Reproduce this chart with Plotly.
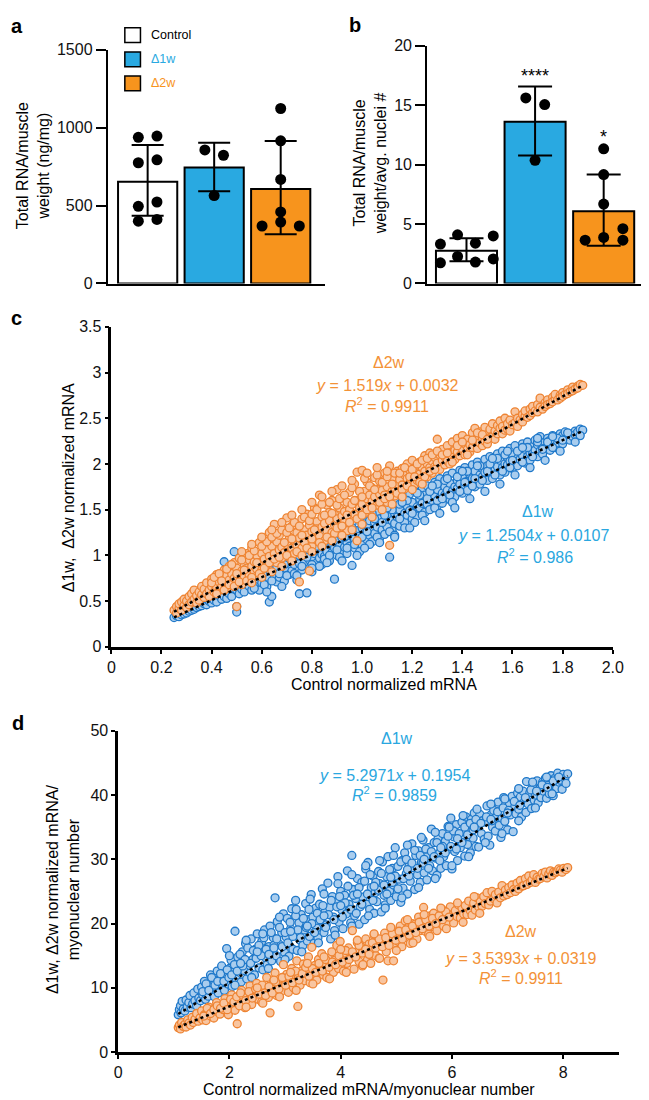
import plotly.graph_objects as go

W, H = 649, 1100
FONT = "Liberation Sans, Arial, sans-serif"

# ---------------- panel a : total RNA / muscle weight (ng/mg)
groups = ["Control", "Δ1w", "Δ2w"]
a_mean = [653, 744, 607]
a_upper = [889, 904, 915]
a_lower = [434, 592, 316]
a_ctrl = [938, 946, 775, 794, 495, 523, 400, 411]
a_1w = [857, 823, 564]
a_2w = [1123, 916, 668, 459, 369, 394, 369]

# ---------------- panel b : total RNA / muscle weight / avg nuclei
b_mean = [2.76, 13.6, 6.07]
b_upper = [3.81, 16.55, 9.16]
b_lower = [1.88, 10.76, 3.18]
b_ctrl = [3.31, 4.09, 3.39, 4.00, 1.74, 2.27, 1.80, 2.07]
b_1w = [15.6, 15.04, 10.35]
b_2w = [11.32, 9.16, 6.68, 3.64, 3.87, 4.61, 3.64]
b_stars = ["", "****", "*"]

# ---------------- panel c : normalized mRNA (x = control, y = D1w / D2w)
c_2w = [
    (0.25, 0.40), (0.26, 0.37), (0.26, 0.44), (0.27, 0.42), (0.27, 0.47),
    (0.28, 0.40), (0.28, 0.49), (0.29, 0.45), (0.29, 0.52), (0.30, 0.43),
    (0.30, 0.50), (0.31, 0.55), (0.31, 0.46), (0.32, 0.49), (0.32, 0.58),
    (0.33, 0.52), (0.33, 0.62), (0.34, 0.48), (0.34, 0.56), (0.35, 0.60),
    (0.35, 0.51), (0.36, 0.66), (0.36, 0.57), (0.37, 0.54), (0.37, 0.63),
    (0.38, 0.58), (0.38, 0.70), (0.39, 0.62), (0.39, 0.55), (0.40, 0.66),
    (0.40, 0.74), (0.41, 0.60), (0.41, 0.69), (0.42, 0.65), (0.42, 0.79),
    (0.43, 0.62), (0.43, 0.71), (0.44, 0.76), (0.44, 0.66), (0.45, 0.84),
    (0.45, 0.70), (0.46, 0.64), (0.46, 0.78), (0.47, 0.73), (0.47, 0.88),
    (0.48, 0.69), (0.48, 0.80), (0.49, 0.75), (0.49, 0.92), (0.50, 0.44),
    (0.50, 0.72), (0.50, 0.86), (0.51, 0.79), (0.51, 0.97), (0.52, 0.68),
    (0.52, 0.83), (0.53, 0.90), (0.53, 0.76), (0.54, 1.02), (0.54, 0.86),
    (0.55, 0.78), (0.55, 0.95), (0.56, 0.88), (0.56, 1.08), (0.57, 0.82),
    (0.57, 0.93), (0.58, 1.00), (0.58, 0.85), (0.59, 1.14), (0.59, 0.92),
    (0.60, 0.84), (0.60, 1.02), (0.61, 0.96), (0.61, 1.19), (0.62, 0.90),
    (0.62, 1.06), (0.63, 0.99), (0.63, 1.25), (0.64, 0.93), (0.64, 1.10),
    (0.65, 1.34), (0.65, 1.02), (0.66, 0.92), (0.66, 1.15), (0.67, 1.06),
    (0.67, 1.22), (0.68, 0.97), (0.68, 1.09), (0.69, 1.30), (0.69, 1.03),
    (0.70, 1.41), (0.70, 1.12), (0.71, 0.98), (0.71, 1.20), (0.72, 1.08),
    (0.72, 1.32), (0.73, 1.16), (0.73, 1.02), (0.74, 1.25), (0.74, 1.11),
    (0.75, 0.71), (0.75, 1.19), (0.76, 1.40), (0.76, 1.08), (0.77, 1.28),
    (0.77, 1.14), (0.78, 1.45), (0.78, 1.22), (0.79, 0.83), (0.79, 1.33),
    (0.80, 1.10), (0.80, 1.26), (0.81, 1.52), (0.81, 1.18), (0.82, 1.37),
    (0.82, 1.29), (0.83, 1.66), (0.83, 1.21), (0.84, 1.42), (0.84, 1.31),
    (0.85, 1.16), (0.85, 1.35), (0.86, 1.55), (0.86, 1.27), (0.87, 1.47),
    (0.87, 1.38), (0.88, 1.25), (0.88, 1.60), (0.89, 1.33), (0.89, 1.45),
    (0.90, 1.72), (0.90, 1.40), (0.91, 1.30), (0.91, 1.52), (0.92, 1.43),
    (0.92, 1.63), (0.93, 1.36), (0.93, 1.48), (0.94, 1.58), (0.94, 1.27),
    (0.95, 1.50), (0.95, 1.69), (0.96, 1.41), (0.96, 1.56), (0.97, 1.78),
    (0.97, 1.45), (0.98, 1.91), (0.98, 1.16), (0.98, 1.60), (0.99, 1.52),
    (1.00, 1.93), (1.00, 1.56), (1.01, 1.46), (1.01, 1.70), (1.02, 1.62),
    (1.02, 1.80), (1.03, 1.53), (1.03, 1.66), (1.04, 1.74), (1.04, 1.59),
    (1.05, 1.85), (1.05, 1.64), (1.06, 1.55), (1.06, 1.72), (1.07, 1.67),
    (1.07, 1.81), (1.08, 1.60), (1.08, 1.71), (1.09, 1.90), (1.09, 1.66),
    (1.10, 1.75), (1.10, 1.58), (1.11, 1.98), (1.11, 1.11), (1.12, 1.70),
    (1.12, 1.84), (1.13, 1.74), (1.13, 1.65), (1.14, 1.92), (1.14, 1.78),
    (1.15, 1.70), (1.15, 1.83), (1.16, 1.95), (1.16, 1.77), (1.17, 1.88),
    (1.17, 1.73), (1.18, 2.00), (1.18, 1.84), (1.19, 1.79), (1.19, 1.93),
    (1.20, 1.86), (1.20, 2.04), (1.21, 1.78), (1.21, 1.95), (1.22, 1.90),
    (1.22, 1.82), (1.23, 2.02), (1.23, 1.89), (1.24, 1.96), (1.24, 1.85),
    (1.25, 2.09), (1.25, 1.92), (1.26, 1.86), (1.26, 2.00), (1.27, 1.96),
    (1.27, 2.12), (1.28, 1.90), (1.28, 2.03), (1.29, 1.97), (1.29, 2.07),
    (1.30, 2.27), (1.30, 2.01), (1.31, 1.94), (1.31, 2.10), (1.32, 2.04),
    (1.32, 2.16), (1.33, 1.99), (1.33, 2.08), (1.34, 2.20), (1.34, 2.03),
    (1.35, 2.12), (1.35, 2.00), (1.36, 2.24), (1.36, 2.08), (1.37, 2.15),
    (1.37, 2.05), (1.38, 2.28), (1.38, 2.13), (1.39, 2.09), (1.39, 2.21),
    (1.40, 2.17), (1.40, 2.31), (1.41, 2.10), (1.41, 2.22), (1.42, 2.16),
    (1.42, 2.27), (1.43, 2.13), (1.43, 2.21), (1.44, 2.34), (1.44, 2.18),
    (1.45, 2.39), (1.45, 2.24), (1.46, 2.17), (1.46, 2.29), (1.47, 2.23),
    (1.47, 2.35), (1.48, 2.20), (1.48, 2.28), (1.49, 2.40), (1.49, 2.25),
    (1.50, 2.32), (1.50, 2.22), (1.51, 2.38), (1.51, 2.29), (1.52, 2.44),
    (1.52, 2.30), (1.53, 2.36), (1.53, 2.27), (1.54, 2.42), (1.54, 2.33),
    (1.55, 2.39), (1.55, 2.47), (1.56, 2.33), (1.56, 2.41), (1.57, 2.37),
    (1.57, 2.50), (1.58, 2.38), (1.58, 2.44), (1.59, 2.36), (1.59, 2.48),
    (1.60, 2.43), (1.61, 2.57), (1.61, 2.45), (1.62, 2.50), (1.62, 2.41),
    (1.63, 2.48), (1.64, 2.54), (1.64, 2.46), (1.65, 2.52), (1.65, 2.58),
    (1.66, 2.51), (1.67, 2.60), (1.67, 2.53), (1.68, 2.56), (1.68, 2.63),
    (1.69, 2.58), (1.70, 2.65), (1.70, 2.57), (1.71, 2.72), (1.71, 2.62),
    (1.72, 2.60), (1.73, 2.67), (1.73, 2.63), (1.74, 2.70), (1.74, 2.65),
    (1.75, 2.66), (1.76, 2.73), (1.76, 2.68), (1.77, 2.71), (1.77, 2.76),
    (1.78, 2.70), (1.79, 2.75), (1.79, 2.72), (1.80, 2.78), (1.80, 2.74),
    (1.81, 2.76), (1.82, 2.81), (1.82, 2.77), (1.83, 2.79), (1.84, 2.84),
    (1.84, 2.80), (1.85, 2.82), (1.86, 2.85), (1.86, 2.83), (1.87, 2.87),
    (1.88, 2.86),
]
c_2w_more = [
    (0.40, 0.70), (0.41, 0.76), (0.42, 0.58), (0.43, 0.80), (0.44, 0.72),
    (0.45, 0.62), (0.46, 0.85), (0.47, 0.68), (0.48, 0.90), (0.49, 0.66),
    (0.50, 0.80), (0.51, 0.71), (0.52, 0.95), (0.53, 0.84), (0.54, 0.72),
    (0.55, 1.00), (0.56, 0.76), (0.57, 1.05), (0.58, 0.92), (0.59, 0.80),
    (0.60, 1.10), (0.61, 0.86), (0.62, 1.15), (0.63, 0.92), (0.64, 1.20),
    (0.65, 0.96), (0.66, 1.24), (0.67, 0.98), (0.68, 1.28), (0.69, 1.14),
    (0.70, 1.00), (0.70, 1.25), (0.71, 1.30), (0.72, 1.18), (0.73, 1.36),
    (0.74, 1.04), (0.75, 1.32), (0.76, 1.22), (0.77, 1.42), (0.78, 1.08),
    (0.79, 1.38), (0.80, 1.18), (0.80, 1.45), (0.81, 1.28), (0.82, 1.50),
    (0.83, 1.14), (0.84, 1.56), (0.85, 1.44), (0.86, 1.20), (0.87, 1.58),
    (0.88, 1.46), (0.89, 1.24), (0.90, 1.55), (0.90, 1.30), (0.91, 1.62),
    (0.92, 1.32), (0.93, 1.66), (0.94, 1.44), (0.95, 1.36), (0.96, 1.74),
    (0.97, 1.60), (0.98, 1.40), (0.99, 1.70), (1.00, 1.44), (1.00, 1.64),
    (1.01, 1.84), (1.02, 1.50), (1.03, 1.76), (1.04, 1.52), (1.05, 1.72),
    (1.06, 1.88), (1.07, 1.58), (1.08, 1.80), (1.09, 1.62), (1.10, 1.86),
    (1.11, 1.64), (1.12, 1.78), (1.13, 1.90), (1.14, 1.68), (1.15, 1.90),
    (1.16, 1.72), (1.17, 1.96), (1.18, 1.76), (1.19, 1.86), (1.20, 1.94),
    (1.21, 1.86), (1.22, 2.00), (1.23, 1.80), (1.24, 2.04), (1.25, 1.86),
    (1.26, 2.06), (1.27, 1.92), (1.28, 2.10), (1.29, 1.94), (1.30, 2.14),
    (1.32, 2.10), (1.34, 2.12), (1.36, 2.02), (1.38, 2.20), (1.40, 2.24),
    (1.42, 2.10), (1.44, 2.26), (1.46, 2.34), (1.48, 2.32), (1.50, 2.27),
    # upper and lower edges of the cloud
    (0.52, 1.04), (0.56, 1.12), (0.60, 1.20), (0.64, 1.28), (0.68, 1.36),
    (0.72, 1.44), (0.76, 1.50), (0.80, 1.58), (0.84, 1.64), (0.88, 1.70),
    (0.92, 1.76), (0.96, 1.82), (1.02, 1.90), (1.06, 1.96), (1.10, 1.92),
    (0.56, 0.70), (0.60, 0.76), (0.64, 0.82), (0.68, 0.88), (0.72, 0.94),
    (0.76, 1.00), (0.80, 1.04), (0.84, 1.10), (0.88, 1.16), (0.92, 1.22),
    (0.96, 1.28), (1.00, 1.34), (1.04, 1.42), (1.08, 1.50), (1.12, 1.56),
    (1.16, 1.64), (1.20, 1.72), (1.24, 1.78),
]
c_1w = [
    (0.25, 0.32), (0.26, 0.34), (0.27, 0.33), (0.27, 0.37), (0.28, 0.35),
    (0.29, 0.36), (0.29, 0.40), (0.30, 0.37), (0.30, 0.42), (0.31, 0.39),
    (0.32, 0.40), (0.32, 0.45), (0.33, 0.41), (0.33, 0.44), (0.34, 0.43),
    (0.35, 0.44), (0.35, 0.49), (0.36, 0.45), (0.36, 0.51), (0.37, 0.47),
    (0.38, 0.46), (0.38, 0.52), (0.39, 0.50), (0.39, 0.56), (0.40, 0.48),
    (0.40, 0.55), (0.41, 0.51), (0.41, 0.60), (0.42, 0.53), (0.42, 0.49),
    (0.43, 0.56), (0.43, 0.62), (0.44, 0.52), (0.44, 0.58), (0.45, 0.93),
    (0.45, 0.55), (0.45, 0.64), (0.46, 0.60), (0.46, 0.53), (0.47, 0.67),
    (0.47, 0.58), (0.48, 0.63), (0.48, 0.55), (0.49, 1.04), (0.49, 0.70),
    (0.50, 0.38), (0.50, 0.44), (0.50, 0.62), (0.51, 0.68), (0.51, 0.58),
    (0.52, 0.74), (0.52, 0.63), (0.53, 0.60), (0.53, 0.69), (0.54, 0.78),
    (0.55, 0.66), (0.55, 0.72), (0.56, 0.62), (0.56, 0.80), (0.57, 0.70),
    (0.57, 0.76), (0.58, 0.67), (0.58, 0.84), (0.59, 0.73), (0.59, 0.62),
    (0.60, 0.70), (0.60, 0.79), (0.61, 0.88), (0.61, 0.74), (0.62, 0.66),
    (0.62, 0.81), (0.63, 0.49), (0.63, 0.75), (0.64, 0.55), (0.64, 0.92),
    (0.65, 0.78), (0.65, 0.86), (0.66, 0.71), (0.66, 0.96), (0.67, 0.84),
    (0.67, 0.76), (0.68, 0.90), (0.68, 0.82), (0.69, 1.00), (0.69, 0.72),
    (0.70, 0.85), (0.70, 0.93), (0.71, 0.79), (0.71, 1.04), (0.72, 0.88),
    (0.72, 0.83), (0.73, 0.97), (0.73, 0.90), (0.74, 0.73), (0.74, 1.08),
    (0.75, 0.58), (0.75, 0.91), (0.76, 0.99), (0.76, 0.84), (0.77, 1.02),
    (0.77, 0.92), (0.78, 0.59), (0.78, 1.06), (0.79, 0.95), (0.79, 0.86),
    (0.80, 0.82), (0.80, 0.98), (0.81, 1.10), (0.81, 1.02), (0.82, 0.92),
    (0.82, 1.05), (0.83, 0.97), (0.83, 1.14), (0.84, 1.01), (0.84, 0.90),
    (0.85, 1.08), (0.85, 0.99), (0.86, 1.19), (0.86, 1.04), (0.87, 0.94),
    (0.87, 1.12), (0.88, 1.03), (0.88, 1.23), (0.89, 0.74), (0.89, 1.08),
    (0.90, 1.00), (0.90, 1.16), (0.91, 1.10), (0.91, 1.28), (0.92, 1.05),
    (0.92, 1.19), (0.93, 1.09), (0.93, 1.32), (0.94, 1.14), (0.94, 1.02),
    (0.95, 1.22), (0.95, 1.10), (0.96, 0.89), (0.96, 1.35), (0.97, 1.18),
    (0.97, 1.08), (0.98, 1.27), (0.98, 1.15), (0.99, 1.40), (0.99, 1.21),
    (1.00, 1.12), (1.00, 1.30), (1.01, 1.24), (1.01, 1.44), (1.02, 1.17),
    (1.02, 1.33), (1.03, 1.22), (1.03, 1.38), (1.04, 1.27), (1.04, 1.15),
    (1.05, 1.36), (1.05, 1.24), (1.06, 1.48), (1.06, 1.31), (1.07, 1.19),
    (1.07, 1.40), (1.08, 1.28), (1.08, 1.52), (1.09, 1.35), (1.09, 1.23),
    (1.10, 1.43), (1.10, 1.31), (1.11, 0.98), (1.11, 1.56), (1.12, 1.38),
    (1.12, 1.27), (1.13, 1.46), (1.13, 1.35), (1.14, 1.60), (1.14, 1.42),
    (1.15, 1.32), (1.15, 1.50), (1.16, 1.41), (1.16, 1.63), (1.17, 1.46),
    (1.17, 1.36), (1.18, 1.54), (1.18, 1.44), (1.19, 1.67), (1.19, 1.49),
    (1.20, 1.40), (1.20, 1.58), (1.21, 1.48), (1.21, 1.70), (1.22, 1.53),
    (1.22, 1.43), (1.23, 1.62), (1.23, 1.52), (1.24, 1.73), (1.24, 1.57),
    (1.25, 1.47), (1.25, 1.66), (1.26, 1.56), (1.26, 1.76), (1.27, 1.61),
    (1.27, 1.50), (1.28, 1.69), (1.28, 1.60), (1.29, 1.80), (1.29, 1.64),
    (1.30, 1.54), (1.30, 1.72), (1.31, 1.63), (1.31, 1.84), (1.32, 1.68),
    (1.32, 1.57), (1.33, 1.75), (1.33, 1.66), (1.34, 1.87), (1.34, 1.71),
    (1.35, 1.61), (1.35, 1.79), (1.36, 1.70), (1.36, 1.90), (1.37, 1.75),
    (1.37, 1.64), (1.38, 1.82), (1.38, 1.73), (1.39, 1.93), (1.39, 1.78),
    (1.40, 1.68), (1.40, 1.86), (1.41, 1.77), (1.41, 1.96), (1.42, 1.81),
    (1.42, 1.71), (1.43, 1.89), (1.43, 1.80), (1.44, 1.99), (1.44, 1.84),
    (1.45, 1.75), (1.45, 1.92), (1.46, 1.83), (1.46, 2.02), (1.47, 1.88),
    (1.47, 1.78), (1.48, 1.95), (1.48, 1.86), (1.49, 2.05), (1.49, 1.91),
    (1.50, 1.82), (1.50, 1.98), (1.51, 1.90), (1.51, 2.08), (1.52, 1.94),
    (1.52, 1.84), (1.53, 2.01), (1.53, 1.93), (1.54, 2.11), (1.54, 1.97),
    (1.55, 1.88), (1.55, 2.04), (1.56, 1.96), (1.56, 2.14), (1.57, 2.00),
    (1.57, 1.91), (1.58, 2.07), (1.58, 1.99), (1.59, 2.17), (1.59, 2.03),
    (1.60, 1.95), (1.60, 2.10), (1.61, 2.02), (1.61, 2.20), (1.62, 2.06),
    (1.62, 1.98), (1.63, 2.13), (1.63, 2.05), (1.64, 2.22), (1.64, 2.09),
    (1.65, 2.01), (1.65, 2.16), (1.66, 2.08), (1.66, 2.24), (1.67, 2.12),
    (1.67, 2.04), (1.68, 2.19), (1.68, 2.11), (1.69, 2.26), (1.69, 2.15),
    (1.70, 2.08), (1.70, 2.21), (1.71, 2.30), (1.71, 2.14), (1.72, 2.18),
    (1.72, 2.11), (1.73, 2.24), (1.73, 2.17), (1.74, 2.28), (1.74, 2.20),
    (1.75, 2.15), (1.75, 2.26), (1.76, 2.21), (1.76, 2.31), (1.77, 2.24),
    (1.77, 2.18), (1.78, 2.29), (1.78, 2.23), (1.79, 2.33), (1.79, 2.26),
    (1.80, 2.22), (1.80, 2.31), (1.81, 2.27), (1.81, 2.35), (1.82, 2.29),
    (1.83, 2.26), (1.83, 2.33), (1.84, 2.30), (1.85, 2.36), (1.85, 2.32),
    (1.86, 2.35), (1.87, 2.38), (1.88, 2.37), (1.87, 2.31),
]
c_1w_more = [
    (0.55, 0.76), (0.57, 0.64), (0.58, 0.78), (0.60, 0.86), (0.61, 0.68),
    (0.63, 0.84), (0.64, 0.72), (0.66, 0.88), (0.67, 0.80), (0.69, 0.90),
    (0.70, 0.78), (0.72, 0.95), (0.73, 0.80), (0.75, 1.00), (0.76, 0.88),
    (0.78, 0.98), (0.79, 1.06), (0.80, 0.90), (0.82, 1.10), (0.83, 0.88),
    (0.85, 1.14), (0.85, 0.96), (0.87, 1.00), (0.88, 1.16), (0.90, 1.06),
    (0.91, 0.98), (0.93, 1.20), (0.94, 1.08), (0.96, 1.26), (0.97, 1.12),
    (0.99, 1.04), (1.00, 1.34), (1.00, 1.20), (1.02, 1.26), (1.03, 1.12),
    (1.05, 1.40), (1.06, 1.20), (1.08, 1.36), (1.09, 1.44), (1.11, 1.26),
    (1.12, 1.50), (1.13, 1.22), (1.15, 1.40), (1.15, 1.56), (1.17, 1.30),
    (1.18, 1.60), (1.20, 1.46), (1.21, 1.36), (1.23, 1.66), (1.24, 1.44),
    (1.26, 1.62), (1.27, 1.70), (1.29, 1.52), (1.30, 1.60), (1.30, 1.78),
    (1.32, 1.62), (1.33, 1.82), (1.35, 1.66), (1.36, 1.58), (1.38, 1.86),
    (1.39, 1.70), (1.41, 1.80), (1.42, 1.92), (1.44, 1.76), (1.45, 1.84),
    (1.47, 1.98), (1.48, 1.82), (1.50, 1.92), (1.51, 2.00), (1.53, 1.88),
    (1.54, 2.06), (1.56, 1.92), (1.57, 2.10), (1.59, 1.96), (1.60, 2.04),
    (1.62, 2.14), (1.64, 2.02), (1.66, 2.18), (1.68, 2.08), (1.70, 2.24),
    (1.72, 2.16), (1.74, 2.24), (1.76, 2.18), (1.78, 2.28), (1.80, 2.26),
    # wider edges of the cloud
    (1.01, 1.08), (1.04, 1.46), (1.07, 1.14), (1.10, 1.52), (1.13, 1.20),
    (1.16, 1.58), (1.19, 1.30), (1.22, 1.68), (1.25, 1.38), (1.28, 1.76),
    (1.31, 1.46), (1.34, 1.84), (1.37, 1.52), (1.40, 1.92), (1.43, 1.62),
    (1.46, 1.98), (1.49, 1.70), (1.52, 2.06), (1.55, 1.78), (1.58, 2.14),
    (1.61, 1.88), (1.64, 2.18), (1.67, 1.96), (1.70, 2.28), (1.73, 2.04),
    (1.76, 2.30), (1.79, 2.14), (1.82, 2.34), (1.85, 2.24),
    (0.62, 0.60), (0.68, 0.66), (0.74, 0.78), (0.80, 0.86), (0.86, 0.92),
    (0.92, 0.94), (0.98, 1.00), (0.66, 1.02), (0.72, 1.06), (0.78, 1.14),
    (0.84, 1.22), (0.90, 1.26), (0.96, 1.30),
]
c_fit_x = [0.25, 1.88]
c_fit_1w = [0.323, 2.361]
c_fit_2w = [0.383, 2.859]
c_xticks = [0, 0.2, 0.4, 0.6, 0.8, 1.0, 1.2, 1.4, 1.6, 1.8, 2.0]
c_xlabels = ["0", "0.2", "0.4", "0.6", "0.8", "1.0", "1.2", "1.4", "1.6", "1.8", "2.0"]
c_yticks = [0, 0.5, 1, 1.5, 2, 2.5, 3, 3.5]
c_ylabels = ["0", "0.5", "1", "1.5", "2", "2.5", "3", "3.5"]

# ---------------- panel d : normalized mRNA / myonuclear number
d_1w = [
    (1.08, 5.8), (1.10, 6.6), (1.12, 7.2), (1.13, 6.1), (1.15, 7.9), (1.17, 6.7),
    (1.20, 6.4), (1.22, 8.1), (1.24, 7.0), (1.27, 7.7), (1.29, 8.8), (1.31, 6.9),
    (1.34, 7.5), (1.36, 9.2), (1.38, 8.0), (1.41, 7.2), (1.43, 9.8), (1.45, 8.4),
    (1.48, 8.0), (1.50, 10.1), (1.52, 8.9), (1.55, 11.0), (1.57, 8.2), (1.59, 9.6),
    (1.62, 8.7), (1.64, 10.5), (1.66, 12.0), (1.69, 9.3), (1.71, 11.2), (1.73, 8.6),
    (1.76, 10.0), (1.78, 12.6), (1.80, 9.2), (1.83, 11.4), (1.86, 13.4), (1.88, 10.3),
    (1.91, 9.6), (1.93, 11.9), (1.95, 16.1), (1.97, 10.6), (2.00, 13.0), (2.03, 14.3),
    (2.05, 10.2), (2.07, 12.4), (2.10, 18.8), (2.12, 11.3), (2.15, 14.8), (2.18, 13.2),
    (2.21, 10.9), (2.23, 15.6), (2.26, 12.7), (2.29, 16.9), (2.31, 11.4), (2.34, 14.1),
    (2.37, 12.3), (2.39, 17.6), (2.42, 14.4), (2.45, 12.0), (2.47, 16.0), (2.50, 18.4),
    (2.53, 13.1), (2.55, 15.3), (2.58, 17.2), (2.60, 12.8), (2.63, 19.0), (2.66, 14.6),
    (2.68, 13.6), (2.71, 16.4), (2.73, 19.6), (2.76, 14.2), (2.79, 17.8), (2.82, 24.0),
    (2.84, 15.0), (2.86, 20.3), (2.89, 16.8), (2.92, 14.1), (2.94, 18.6), (2.97, 21.5),
    (2.99, 15.5), (3.02, 17.9), (3.04, 20.8), (3.07, 14.9), (3.10, 19.2), (3.12, 22.3),
    (3.14, 16.0), (3.17, 18.5), (3.19, 23.6), (3.22, 15.8), (3.25, 20.1), (3.27, 17.4),
    (3.29, 21.4), (3.32, 16.6), (3.35, 19.0), (3.37, 23.1), (3.40, 17.3), (3.42, 20.6),
    (3.44, 18.0), (3.47, 24.5), (3.50, 21.0), (3.52, 16.9), (3.55, 22.4), (3.57, 19.3),
    (3.59, 17.8), (3.62, 23.0), (3.65, 20.4), (3.67, 25.4), (3.70, 18.6), (3.72, 21.9),
    (3.74, 19.8), (3.77, 26.3), (3.80, 22.5), (3.82, 17.6), (3.85, 24.2), (3.87, 21.0),
    (3.89, 18.9), (3.92, 23.3), (3.95, 27.3), (3.97, 20.2), (4.00, 25.0), (4.02, 22.1),
    (4.04, 19.2), (4.07, 24.4), (4.10, 21.5), (4.12, 28.2), (4.15, 23.0), (4.18, 20.1),
    (4.20, 30.6), (4.22, 25.3), (4.25, 21.2), (4.27, 23.9), (4.30, 27.0), (4.33, 19.9),
    (4.35, 22.6), (4.38, 26.4), (4.40, 24.1), (4.43, 20.6), (4.45, 28.5), (4.47, 23.0),
    (4.49, 29.5), (4.52, 22.2), (4.55, 25.6), (4.58, 27.4), (4.60, 21.6), (4.62, 24.8),
    (4.65, 23.4), (4.68, 28.1), (4.70, 26.2), (4.73, 21.8), (4.75, 29.6), (4.78, 24.4),
    (4.80, 22.9), (4.83, 27.3), (4.85, 30.4), (4.88, 25.1), (4.90, 23.6), (4.93, 28.6),
    (4.95, 26.0), (4.98, 31.8), (5.00, 24.2), (5.03, 28.9), (5.05, 26.9), (5.08, 23.3),
    (5.10, 29.8), (5.12, 25.5), (5.15, 31.0), (5.18, 27.8), (5.20, 24.6), (5.23, 29.0),
    (5.25, 26.6), (5.28, 32.4), (5.30, 28.7), (5.33, 25.3), (5.35, 30.6), (5.38, 27.6),
    (5.40, 31.3), (5.43, 26.4), (5.45, 29.5), (5.48, 33.0), (5.50, 27.9), (5.53, 30.4),
    (5.55, 26.8), (5.58, 31.8), (5.60, 29.0), (5.63, 34.7), (5.65, 28.2), (5.68, 32.6),
    (5.70, 30.2), (5.73, 27.5), (5.75, 33.2), (5.78, 31.0), (5.80, 28.6), (5.83, 34.0),
    (5.85, 30.4), (5.88, 32.8), (5.90, 29.0), (5.93, 35.1), (5.95, 31.6), (5.98, 36.4),
    (6.00, 28.5), (6.03, 33.5), (6.05, 31.2), (6.08, 35.4), (6.10, 29.8), (6.13, 33.0),
    (6.15, 31.8), (6.18, 35.8), (6.20, 33.4), (6.23, 30.5), (6.25, 36.6), (6.28, 32.3),
    (6.30, 34.6), (6.33, 31.0), (6.35, 36.2), (6.38, 33.3), (6.40, 37.2), (6.43, 32.0),
    (6.45, 35.1), (6.48, 31.9), (6.50, 37.0), (6.53, 34.0), (6.55, 36.0), (6.58, 33.1),
    (6.60, 35.8), (6.63, 38.3), (6.65, 33.6), (6.68, 32.2), (6.70, 36.9), (6.73, 35.0),
    (6.75, 37.6), (6.78, 34.4), (6.80, 36.6), (6.83, 38.9), (6.85, 35.3), (6.88, 33.4),
    (6.90, 36.4), (6.93, 39.6), (6.95, 35.9), (6.98, 37.9), (7.00, 34.6), (7.03, 38.5),
    (7.05, 36.9), (7.08, 39.8), (7.10, 34.3), (7.13, 38.2), (7.15, 37.1), (7.18, 40.3),
    (7.20, 37.8), (7.23, 39.7), (7.25, 36.6), (7.28, 40.6), (7.30, 38.9), (7.33, 37.3),
    (7.34, 42.1), (7.37, 38.6), (7.40, 40.4), (7.43, 37.9), (7.45, 41.3), (7.48, 39.2),
    (7.50, 40.0), (7.53, 42.2), (7.55, 38.8), (7.58, 41.0), (7.60, 39.6), (7.63, 42.0),
    (7.65, 40.6), (7.68, 42.6), (7.70, 39.5), (7.73, 41.5), (7.75, 40.2), (7.78, 43.0),
    (7.80, 41.3), (7.82, 39.9), (7.85, 42.6), (7.88, 41.0), (7.90, 43.4), (7.93, 42.0),
    (7.95, 42.3), (7.98, 40.9), (8.00, 43.2), (8.03, 42.6), (8.05, 41.8), (8.08, 43.3),
]
d_1w_more = [
    (1.52, 9.4), (1.58, 10.6), (1.63, 9.6), (1.68, 11.6), (1.74, 10.4),
    (1.79, 11.0), (1.84, 12.2), (1.90, 11.0), (1.96, 12.8), (1.99, 11.6),
    (2.04, 12.0), (2.09, 13.6), (2.14, 12.6), (2.19, 15.2), (2.24, 13.4),
    (2.28, 14.4), (2.33, 16.2), (2.38, 13.8), (2.43, 15.8), (2.48, 14.6),
    (2.53, 16.6), (2.57, 15.0), (2.62, 17.8), (2.66, 16.0), (2.71, 15.2),
    (2.75, 18.6), (2.80, 16.6), (2.85, 17.6), (2.90, 19.4), (2.95, 16.4),
    (3.00, 18.6), (3.05, 17.0), (3.09, 20.2), (3.14, 18.0), (3.19, 21.2),
    (3.23, 19.0), (3.28, 17.8), (3.33, 20.8), (3.38, 19.4), (3.43, 22.2),
    (3.48, 20.0), (3.53, 18.6), (3.58, 21.6), (3.63, 20.6), (3.68, 22.8),
    (3.73, 19.4), (3.78, 21.4), (3.83, 23.6), (3.88, 20.6), (3.93, 22.6),
    (3.98, 24.2), (4.03, 21.0), (4.08, 23.2), (4.13, 25.8), (4.18, 22.2),
    (4.23, 24.4), (4.28, 21.6), (4.33, 25.6), (4.38, 23.0), (4.43, 26.6),
    (4.48, 24.6), (4.53, 27.6), (4.58, 23.6), (4.63, 26.4), (4.68, 25.2),
    (4.73, 27.8), (4.78, 26.0), (4.83, 24.6), (4.88, 28.4), (4.93, 26.4),
    (4.98, 27.4), (5.03, 25.4), (5.08, 29.6), (5.13, 27.0), (5.18, 30.0),
    (5.23, 27.4), (5.28, 29.4), (5.33, 31.4), (5.38, 28.6), (5.43, 30.6),
    (5.48, 29.4), (5.53, 31.6), (5.58, 28.6), (5.63, 31.2), (5.68, 30.4),
    (5.73, 32.6), (5.78, 29.8), (5.83, 32.0), (5.88, 31.0), (5.93, 33.6),
    (5.98, 32.0), (6.03, 34.4), (6.08, 31.6), (6.13, 34.0), (6.18, 32.6),
    (6.23, 35.0), (6.28, 33.8), (6.33, 35.6), (6.38, 34.6), (6.43, 36.2),
    (6.52, 35.6), (6.62, 36.6), (6.72, 36.0), (6.82, 37.4), (6.92, 38.0),
    (7.02, 37.6), (7.12, 39.0), (7.22, 38.4), (7.32, 39.6), (7.42, 40.8),
    (7.52, 40.6), (7.62, 41.6), (7.72, 41.2), (7.82, 42.2), (7.92, 42.8),
    # upper edge, lower edge and middle of the cloud
    (2.00, 15.0), (2.30, 17.4), (2.60, 18.4), (2.90, 21.0), (3.20, 22.2),
    (3.45, 23.8), (3.70, 24.6), (3.95, 26.2), (4.20, 27.6), (4.45, 29.0),
    (4.70, 29.8), (4.95, 30.6), (5.20, 32.2), (5.45, 33.4), (5.70, 34.2),
    (5.95, 35.0), (6.20, 36.8), (6.45, 37.8), (6.70, 38.6), (6.95, 39.4),
    (7.20, 41.0), (7.45, 42.0), (7.70, 42.8),
    (2.10, 10.4), (2.40, 11.6), (2.70, 13.0), (3.00, 14.4), (3.30, 15.6),
    (3.60, 17.0), (3.90, 18.2), (4.20, 19.6), (4.50, 21.2), (4.80, 22.4),
    (5.10, 24.0), (5.40, 25.6), (5.70, 27.0), (6.00, 29.0), (6.30, 30.4),
    (6.60, 32.6), (6.90, 34.0), (7.20, 36.0), (7.50, 38.0), (7.80, 40.2),
    (2.20, 13.8), (2.50, 15.6), (2.80, 16.2), (3.10, 18.8), (3.40, 19.6),
    (3.70, 21.2), (4.00, 22.8), (4.30, 24.6), (4.60, 25.8), (4.90, 27.2),
    (5.20, 28.4), (5.50, 30.0), (5.80, 31.8), (6.10, 33.2), (6.40, 35.0),
    (6.70, 36.2), (7.00, 37.2),
]
d_2w = [
    (1.08, 3.8), (1.10, 4.2), (1.12, 3.6), (1.14, 4.6), (1.17, 4.0),
    (1.20, 4.3), (1.22, 3.9), (1.25, 5.0), (1.27, 4.5), (1.30, 4.2),
    (1.33, 5.4), (1.35, 4.6), (1.38, 5.1), (1.41, 6.0), (1.44, 4.8),
    (1.47, 5.3), (1.50, 6.4), (1.52, 5.0), (1.55, 5.8), (1.58, 4.9),
    (1.61, 6.1), (1.63, 7.0), (1.66, 5.6), (1.69, 6.4), (1.72, 5.3),
    (1.74, 6.8), (1.77, 7.7), (1.80, 6.2), (1.83, 5.9), (1.86, 7.2),
    (1.89, 6.6), (1.92, 8.3), (1.95, 7.0), (1.98, 5.8), (2.01, 7.7),
    (2.04, 8.9), (2.07, 7.3), (2.10, 6.5), (2.14, 4.4), (2.16, 8.1),
    (2.19, 7.6), (2.22, 9.6), (2.25, 8.4), (2.28, 6.9), (2.31, 9.0),
    (2.34, 8.0), (2.37, 10.3), (2.40, 7.4), (2.43, 9.1), (2.46, 8.5),
    (2.49, 10.7), (2.52, 8.2), (2.55, 9.6), (2.58, 7.8), (2.61, 10.1),
    (2.64, 9.2), (2.67, 11.6), (2.70, 8.5), (2.73, 6.1), (2.76, 10.4),
    (2.79, 9.7), (2.82, 12.3), (2.85, 8.8), (2.88, 10.8), (2.91, 11.4),
    (2.94, 9.5), (2.97, 13.6), (3.00, 10.6), (3.03, 12.1), (3.06, 9.3),
    (3.09, 11.3), (3.12, 13.0), (3.15, 10.0), (3.18, 12.0), (3.23, 7.1),
    (3.21, 14.2), (3.24, 11.6), (3.27, 10.4), (3.30, 12.6), (3.33, 13.7),
    (3.36, 11.1), (3.39, 12.9), (3.42, 14.8), (3.45, 10.8), (3.48, 16.3),
    (3.51, 12.2), (3.54, 13.5), (3.57, 11.2), (3.60, 14.4), (3.63, 12.7),
    (3.66, 15.3), (3.69, 12.0), (3.72, 13.9), (3.75, 11.6), (3.78, 14.6),
    (3.81, 13.2), (3.84, 15.6), (3.87, 12.4), (3.90, 14.3), (3.93, 16.6),
    (3.96, 13.0), (3.99, 17.2), (4.02, 14.8), (4.05, 12.6), (4.08, 15.4),
    (4.11, 13.8), (4.14, 16.2), (4.17, 14.6), (4.21, 18.9), (4.24, 12.9),
    (4.27, 15.5), (4.30, 17.0), (4.33, 14.1), (4.36, 16.4), (4.39, 13.4),
    (4.42, 15.9), (4.45, 17.6), (4.48, 14.3), (4.51, 16.8), (4.54, 13.8),
    (4.57, 16.1), (4.60, 18.2), (4.63, 15.0), (4.66, 17.3), (4.69, 14.6),
    (4.72, 16.8), (4.76, 11.2), (4.79, 18.5), (4.82, 15.6), (4.85, 14.2),
    (4.88, 17.4), (4.91, 19.2), (4.95, 14.2), (4.98, 16.5), (5.01, 18.1),
    (5.04, 17.2), (5.07, 19.6), (5.10, 16.4), (5.13, 18.6), (5.16, 20.4),
    (5.19, 17.8), (5.22, 19.4), (5.25, 16.9), (5.28, 20.0), (5.31, 18.4),
    (5.34, 19.9), (5.37, 17.6), (5.40, 21.0), (5.43, 18.9), (5.46, 20.3),
    (5.49, 22.5), (5.52, 18.8), (5.55, 20.0), (5.58, 18.3), (5.61, 21.2),
    (5.64, 19.5), (5.67, 21.6), (5.70, 20.2), (5.73, 18.9), (5.76, 21.0),
    (5.79, 20.4), (5.82, 22.2), (5.85, 19.6), (5.88, 21.4), (5.91, 20.7),
    (5.94, 20.2), (5.97, 22.6), (6.00, 21.3), (6.03, 20.1), (6.06, 22.0),
    (6.09, 21.1), (6.12, 22.9), (6.15, 20.9), (6.18, 22.4), (6.21, 21.5),
    (6.24, 22.8), (6.27, 21.4), (6.30, 23.5), (6.33, 22.0), (6.36, 21.3),
    (6.39, 23.2), (6.42, 22.1), (6.45, 24.0), (6.48, 22.6), (6.51, 23.4),
    (6.54, 22.7), (6.57, 24.2), (6.60, 23.1), (6.63, 24.8), (6.66, 22.9),
    (6.69, 23.5), (6.72, 25.0), (6.75, 23.9), (6.78, 24.5), (6.81, 23.2),
    (6.84, 24.9), (6.87, 24.0), (6.90, 25.9), (6.93, 24.3), (6.96, 25.2),
    (6.99, 24.5), (7.02, 25.6), (7.05, 24.8), (7.08, 26.0), (7.11, 25.3),
    (7.14, 25.0), (7.17, 26.3), (7.20, 25.4), (7.23, 26.7), (7.26, 25.8),
    (7.29, 25.9), (7.32, 27.0), (7.35, 26.1), (7.38, 27.4), (7.41, 26.4),
    (7.44, 26.8), (7.47, 27.6), (7.50, 26.4), (7.53, 27.2), (7.56, 26.9),
    (7.59, 27.0), (7.62, 27.8), (7.65, 27.3), (7.68, 28.0), (7.71, 27.1),
    (7.74, 27.7), (7.77, 28.2), (7.80, 27.5), (7.83, 28.0), (7.86, 27.9),
    (7.89, 28.1), (7.92, 28.5), (7.95, 28.3), (7.98, 28.0), (8.01, 28.6),
    (8.05, 28.4), (8.08, 28.7),
]
d_2w_more = [
    (1.54, 5.6), (1.60, 6.8), (1.66, 6.0), (1.72, 6.6), (1.78, 7.2),
    (1.84, 6.8), (1.90, 7.6), (1.96, 6.6), (2.02, 8.2), (2.08, 7.8),
    (2.13, 8.6), (2.18, 7.2), (2.24, 8.8), (2.29, 8.0), (2.35, 9.4),
    (2.41, 8.4), (2.47, 9.8), (2.53, 9.0), (2.59, 10.4), (2.65, 8.8),
    (2.71, 10.2), (2.77, 9.2), (2.83, 10.9), (2.89, 9.8), (2.95, 11.6),
    (3.01, 10.4), (3.07, 11.8), (3.13, 10.8), (3.19, 12.6), (3.25, 11.2),
    (3.31, 12.2), (3.37, 13.2), (3.43, 11.8), (3.49, 13.0), (3.55, 12.4),
    (3.61, 13.8), (3.67, 12.6), (3.73, 14.4), (3.79, 13.2), (3.85, 14.0),
    (3.91, 13.6), (3.97, 15.0), (4.03, 14.0), (4.09, 15.8), (4.15, 14.4),
    (4.21, 15.6), (4.27, 14.8), (4.33, 16.6), (4.39, 15.4), (4.45, 16.0),
    (4.51, 15.2), (4.57, 17.0), (4.63, 16.2), (4.69, 17.6), (4.75, 16.4),
    (4.81, 17.8), (4.87, 16.6), (4.93, 18.4), (4.99, 17.4), (5.05, 18.8),
    (5.11, 17.6), (5.17, 19.0), (5.23, 18.2), (5.29, 19.6), (5.35, 18.6),
    (5.41, 20.2), (5.47, 19.2), (5.53, 20.6), (5.59, 19.6), (5.65, 20.8),
    (5.71, 20.0), (5.77, 21.2), (5.83, 20.6), (5.89, 21.8), (5.95, 21.0),
    # upper and lower edges of the cloud
    (2.20, 9.2), (2.50, 10.0), (2.80, 11.2), (3.10, 12.4), (3.40, 13.8),
    (3.70, 14.8), (4.00, 16.0), (4.30, 17.4), (4.60, 18.4), (4.90, 19.4),
    (5.20, 20.6), (5.50, 21.4), (5.80, 22.4), (6.10, 23.2), (6.40, 24.2),
    (2.30, 7.0), (2.60, 7.6), (2.90, 8.6), (3.20, 9.6), (3.50, 10.6),
    (3.80, 11.4), (4.10, 12.4), (4.40, 13.6), (4.70, 14.6), (5.00, 15.8),
    (5.30, 17.0), (5.60, 18.0), (5.90, 19.2), (6.20, 20.2), (6.50, 21.6),
]
d_fit_x = [1.08, 8.08]
d_fit_1w = [5.92, 43.0]
d_fit_2w = [3.85, 28.63]

# ---------------- colours
BAR_COLORS = ["white", "#29a9e1", "#f7941d"]
TXT_BLUE = "#2aa7e0"
TXT_ORANGE = "#f39237"
PT_BLUE = dict(fill="#a9cdee", edge="#1f78c9")
PT_ORANGE = dict(fill="#f8c5a0", edge="#ee8433")


def xy(pts):
    return [p[0] for p in pts], [p[1] for p in pts]


def px(x):
    return x / W


def py(y):
    return 1 - y / H


def note(text, x, y, size=16, color="black", **kw):
    d = dict(text=text, x=px(x), y=py(y), xref="paper", yref="paper",
             showarrow=False, font=dict(size=size, color=color, family=FONT),
             xanchor="center", yanchor="middle")
    d.update(kw)
    return d


def axis(dom, rng, anchor, lw=2, **kw):
    d = dict(domain=dom, range=rng, anchor=anchor, showgrid=False, zeroline=False,
             showline=True, linecolor="black", linewidth=lw,
             tickfont=dict(size=16, color="#111", family=FONT),
             tickcolor="black", fixedrange=True)
    d.update(kw)
    return d


fig = go.Figure()

# bars + error bars + dots for panels a and b
bar_x = [0, 1, 2]
dot_a = [(a_ctrl, 0, [-0.14, 0.14, -0.14, 0.14, -0.14, 0.14, -0.14, 0.14]),
         (a_1w, 1, [-0.14, 0.14, 0]),
         (a_2w, 2, [0, 0, 0, 0, -0.28, 0, 0.28])]
dot_b = [(b_ctrl, 0, [-0.38, -0.13, 0.13, 0.39, -0.38, -0.13, 0.13, 0.39]),
         (b_1w, 1, [-0.135, 0.14, 0]),
         (b_2w, 2, [0, 0, 0, -0.27, 0, 0.28, 0.28])]

for mean, up, lo, dots, ax, cap in [(a_mean, a_upper, a_lower, dot_a, "", 16),
                                     (b_mean, b_upper, b_lower, dot_b, "2", 17)]:
    fig.add_trace(go.Bar(
        x=bar_x, y=mean, width=0.89,
        marker=dict(color=BAR_COLORS, line=dict(color="black", width=2)),
        error_y=dict(type="data", symmetric=False,
                     array=[u - m for u, m in zip(up, mean)],
                     arrayminus=[m - l for l, m in zip(lo, mean)],
                     color="black", thickness=2, width=cap),
        xaxis="x" + ax, yaxis="y" + ax))
    for vals, g, offs in dots:
        fig.add_trace(go.Scatter(
            x=[g + o for o in offs], y=vals, mode="markers",
            marker=dict(size=11, color="black"),
            xaxis="x" + ax, yaxis="y" + ax))

# scatter panels c and d
scatter_sets = [(c_1w + c_1w_more, c_2w + c_2w_more, c_fit_x, c_fit_1w, c_fit_2w, "3"),
                (d_1w + d_1w_more, d_2w + d_2w_more, d_fit_x, d_fit_1w, d_fit_2w, "4")]
for pts1, pts2, fx, f1, f2, ax in scatter_sets:
    for pts, col in [(pts1, PT_BLUE), (pts2, PT_ORANGE)]:
        x, y = xy(pts)
        fig.add_trace(go.Scatter(
            x=x, y=y, mode="markers",
            marker=dict(size=8, color=col["fill"],
                        line=dict(color=col["edge"], width=1.3)),
            xaxis="x" + ax, yaxis="y" + ax))
    for fy in (f1, f2):
        fig.add_trace(go.Scatter(
            x=fx, y=fy, mode="lines",
            line=dict(color="black", width=2.5, dash="dot"),
            xaxis="x" + ax, yaxis="y" + ax))

# axes
fig.update_layout(
    xaxis=axis([px(98), px(320)], [-0.6, 2.66], "y", showticklabels=False, ticks=""),
    yaxis=axis([py(271.7), py(34.3)], [0, 1500], "x", tickvals=[0, 500, 1000, 1500],
               ticks="outside", ticklen=10, tickwidth=2),
    xaxis2=axis([px(425), px(645)], [-0.573, 2.56], "y2", showticklabels=False, ticks=""),
    yaxis2=axis([py(271.7), py(30)], [0, 20], "x2", tickvals=[0, 5, 10, 15, 20],
                ticks="outside", ticklen=10, tickwidth=2),
    xaxis3=axis([px(101.7), px(615)], [0, 2.0], "y3", lw=2.5, tickvals=c_xticks,
                ticktext=c_xlabels, ticks="outside", ticklen=4, tickwidth=2),
    yaxis3=axis([py(640.7), py(315.7)], [0, 3.5], "x3", lw=2.5, tickvals=c_yticks,
                ticktext=c_ylabels, ticks="outside", ticklen=4, tickwidth=2),
    xaxis4=axis([px(108.7), px(621.2)], [0, 9], "y4", lw=2.5,
                tickvals=[0, 2, 4, 6, 8], ticks="outside", ticklen=4, tickwidth=2),
    yaxis4=axis([py(1052.3), py(726)], [0, 50], "x4", lw=2.5,
                tickvals=[0, 10, 20, 30, 40, 50],
                ticks="outside", ticklen=4, tickwidth=2),
)

ann = [
    note("<b>a</b>", 5, 10, size=20),
    note("<b>b</b>", 351, 9, size=20),
    note("<b>c</b>", 5, 307, size=20),
    note("<b>d</b>", 6, 718, size=20),
    # axis titles
    note("Total RNA/muscle<br>weight (ng/mg)", 21, 152, textangle=-90),
    note("Total RNA/muscle<br>weight/avg. nuclei #", 366, 150, textangle=-90),
    note("Δ1w,  Δ2w normalized mRNA", 58, 479, textangle=-90),
    note("Control normalized mRNA", 381, 679),
    note("Δ1w, Δ2w normalized mRNA/<br>myonuclear number", 53, 887, textangle=-90),
    note("Control normalized mRNA/myonuclear number", 365, 1090),
    # significance stars
    note(b_stars[1], 535.5, 61, size=18),
    note(b_stars[2], 605.5, 123, size=18),
    # regression labels, panel c
    note("Δ2w", 386, 352, color=TXT_ORANGE),
    note("<i>y</i> = 1.519<i>x</i> + 0.0032", 384, 375, color=TXT_ORANGE),
    note("<i>R</i><sup>2</sup> = 0.9911", 384, 395, color=TXT_ORANGE),
    note("Δ1w", 538, 503, color=TXT_BLUE),
    note("<i>y</i> = 1.2504<i>x</i> + 0.0107", 534, 528, color=TXT_BLUE),
    note("<i>R</i><sup>2</sup> = 0.986", 535, 548, color=TXT_BLUE),
    # regression labels, panel d
    note("Δ1w", 394, 734, color=TXT_BLUE),
    note("<i>y</i> = 5.2971<i>x</i> + 0.1954", 392, 771, color=TXT_BLUE),
    note("<i>R</i><sup>2</sup> = 0.9859", 392, 790, color=TXT_BLUE),
    note("Δ2w", 521, 930, color=TXT_ORANGE),
    note("<i>y</i> = 3.5393<i>x</i> + 0.0319", 521, 957, color=TXT_ORANGE),
    note("<i>R</i><sup>2</sup> = 0.9911", 521, 976, color=TXT_ORANGE),
]

# hand-made legend for panel a
shapes = []
leg_cols = ["black", "#29a9e1", "#f7941d"]
for i, (name, fill) in enumerate(zip(groups, BAR_COLORS)):
    top = 12 + i * 24.5
    shapes.append(dict(type="rect", xref="paper", yref="paper",
                       x0=px(115.5), x1=px(131.5), y0=py(top + 15), y1=py(top),
                       fillcolor=fill, line=dict(color="black", width=1.5)))
    ann.append(note(name, 140, top + 7.5, size=12.5, color=leg_cols[i], xanchor="left"))

fig.update_layout(
    width=W, height=H, margin=dict(l=0, r=0, t=0, b=0),
    paper_bgcolor="white", plot_bgcolor="white",
    showlegend=False, annotations=ann, shapes=shapes,
    font=dict(family=FONT, color="black"),
)

fig.write_html("out.html")
